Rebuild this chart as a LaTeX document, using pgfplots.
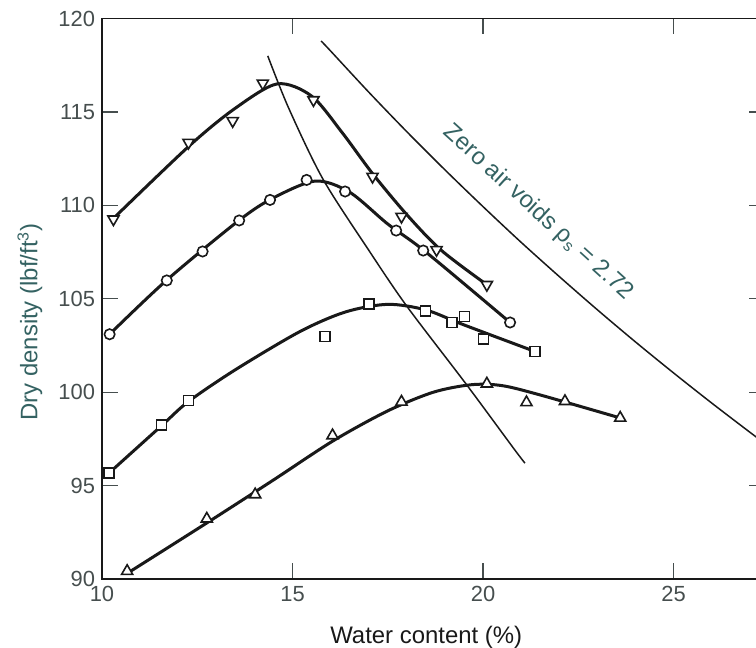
\documentclass[border=0pt]{standalone}
\usepackage{pgfplots}
\pgfplotsset{compat=1.18}
\usepackage{fontspec}
\setmainfont{Liberation Sans}
\definecolor{tealtxt}{RGB}{52,98,98}
\definecolor{ticktxt}{RGB}{70,78,78}
\definecolor{ink}{RGB}{25,25,25}

\begin{document}
\begin{tikzpicture}
\begin{axis}[
  scale only axis, width=331.5bp, height=280.25bp,
  xmin=10, xmax=27.4, ymin=90, ymax=120,
  xtick={10,15,20,25}, ytick={90,95,...,120},
  tick align=inside, major tick length=8bp,
  axis line style={ink, line width=0.9bp},
  every tick/.style={ticktxt, line width=0.6bp},
  tick label style={font=\fontsize{11}{13}\selectfont, text=ticktxt},
  /pgf/number format/assume math mode=true,
  xlabel={Water content (\%)},
  ylabel={Dry density (lbf/ft\textsuperscript{3})},
  label style={font=\fontsize{12}{14}\selectfont},
  xlabel style={at={(axis description cs:0.489,-0.1035)}, anchor=center, text=ink},
  ylabel style={at={(axis description cs:-0.1086,0.4585)}, anchor=center, text=tealtxt},
  clip mode=individual,
  fitline/.style={ink, line width=1.5bp, smooth, no marks},
  thinline/.style={ink, line width=0.75bp, smooth, no marks},
]
\coordinate (O) at (rel axis cs:0,0);

% zero air voids curve
\addplot[thinline] coordinates {
  (15.75,118.8) (16,118.26) (17,116.06) (18,113.94) (19,111.9) (20,109.93)
  (21,108.02) (22,106.19) (23,104.41) (24,102.69) (25,101.03) (26,99.42)
  (27,97.86) (27.4,97.25)};
% line of optimums
\addplot[thinline] coordinates {
  (14.35,118.0) (14.9,115.2) (15.8,111.4) (17.0,107.6) (18.0,104.6)
  (19.55,100.45) (20.8,97.0) (21.1,96.2)};

% fitted curves
\addplot[fitline] coordinates {
  (10.3,109.3) (12.3,113.2) (13.5,115.2) (14.6,116.5) (15.5,115.85) (16.3,113.9)
  (17.1,111.7) (18.0,109.5) (18.9,107.6) (20.1,105.75)};
\addplot[fitline] coordinates {
  (10.2,103.1) (11.7,106.0) (13.6,109.2) (14.5,110.4) (15.6,111.3) (16.5,110.7)
  (17.5,109.0) (18.5,107.5) (20.71,103.73)};
\addplot[fitline] coordinates {
  (10.2,95.7) (11.56,98.2) (12.27,99.5) (13.5,101.2) (15.2,103.25) (16.4,104.3)
  (17.5,104.7) (18.5,104.4) (19.5,103.6) (21.36,102.18)};
\addplot[fitline] coordinates {
  (10.66,90.3) (12.75,93.0) (14.5,95.3) (16.07,97.4) (17.5,99.0) (18.7,100.0)
  (19.7,100.4) (20.5,100.35) (21.5,99.85) (23.6,98.62)};

% measured points
\addplot[only marks, mark=triangle*, mark size=3.2bp,
  mark options={draw=ink, fill=white, line width=0.8bp, rotate=180}] coordinates {
  (10.3,109.26) (12.27,113.36) (13.43,114.52) (14.22,116.53) (15.55,115.64)
  (17.10,111.54) (17.86,109.40) (18.78,107.62) (20.10,105.75)};
\addplot[only marks, mark=*, mark size=2.6bp,
  mark options={draw=ink, fill=white, line width=0.8bp}] coordinates {
  (10.2,103.1) (11.70,105.98) (12.64,107.53) (13.60,109.19) (14.41,110.29)
  (15.37,111.36) (16.38,110.74) (17.72,108.65) (18.43,107.58) (20.71,103.73)};
\addplot[only marks, mark=square*, mark size=2.5bp,
  mark options={draw=ink, fill=white, line width=0.8bp}] coordinates {
  (10.19,95.68) (11.56,98.23) (12.27,99.56) (15.85,102.99) (17.01,104.73)
  (18.49,104.36) (19.19,103.73) (19.51,104.05) (20.01,102.85) (21.36,102.18)};
\addplot[only marks, mark=triangle*, mark size=3.2bp,
  mark options={draw=ink, fill=white, line width=0.8bp}] coordinates {
  (10.66,90.42) (12.75,93.22) (14.02,94.52) (16.05,97.68) (17.86,99.48)
  (20.10,100.45) (21.14,99.45) (22.15,99.51) (23.60,98.62)};

\node[rotate=-42.3, text=tealtxt, font=\fontsize{12}{14}\selectfont]
  at (axis cs:21.45,109.6) {Zero air voids ρ\textsubscript{s} = 2.72};
\end{axis}
\pgfresetboundingbox
\path[use as bounding box] ([shift={(-51bp,-34.5bp)}]O) rectangle ([shift={(327bp,289.5bp)}]O);
\end{tikzpicture}
\end{document}
